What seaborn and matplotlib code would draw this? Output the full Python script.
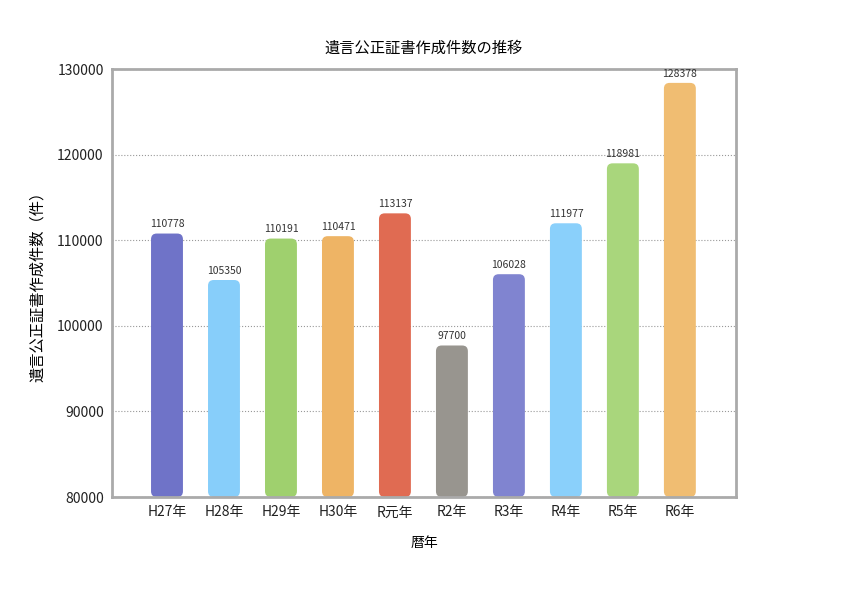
import matplotlib
matplotlib.use("Agg")
import matplotlib.pyplot as plt
import seaborn as sns
import pandas as pd
from matplotlib.patches import FancyBboxPatch

categories = ["H27年", "H28年", "H29年", "H30年", "R元年", "R2年", "R3年", "R4年", "R5年", "R6年"]
values = [110778, 105350, 110191, 110471, 113137, 97700, 106028, 111977, 118981, 128378]
colors = ["#6f73c8", "#87cefa", "#9fd06e", "#eeb465", "#e06b52", "#98958f",
          "#8084d0", "#8ad0fb", "#a9d67c", "#f0bd72"]

plt.rcParams["font.family"] = ["Noto Sans CJK JP", "DejaVu Sans"]
df = pd.DataFrame({"cat": categories, "val": values})

fig = plt.figure(figsize=(8.42, 5.95), dpi=100)
ax = fig.add_axes([112/842, 1-497/595, 624/842, 428/595])
sns.barplot(data=df, x="cat", y="val", hue="cat", palette=colors, legend=False,
            width=0.56, ax=ax, saturation=1)
ax.set_ylim(80000, 130000)
ax.set_xlim(-0.965, 9.985)
xpp = (ax.get_xlim()[1]-ax.get_xlim()[0])/624
ypp = 50000/428
for p in list(ax.patches):
    x, w, h = p.get_x(), p.get_width(), p.get_height()
    fc = p.get_facecolor()
    p.set_visible(False)
    rb = FancyBboxPatch((x, 80000), w, h-80000,
                        boxstyle="round,pad=0,rounding_size=0.1",
                        mutation_aspect=ypp/xpp, fc=fc, ec="none", clip_on=True)
    ax.add_patch(rb)
for i, v in enumerate(values):
    ax.text(i, v+500, str(v), ha="center", va="bottom", fontsize=7.5, color="#333333")

ax.yaxis.grid(True, linestyle=":", color="#999999", linewidth=0.8)
ax.set_axisbelow(True)
for s in ax.spines.values():
    s.set_color("#aaaaaa"); s.set_linewidth(2)
ax.set_yticks(range(80000, 130001, 10000))
ax.tick_params(length=0, labelsize=10, colors="#222222", pad=6)
ax.set_xlabel("暦年", fontsize=10, labelpad=12)
ax.set_ylabel("遺言公正証書作成件数（件）", fontsize=11, labelpad=8)
ax.set_title("遺言公正証書作成件数の推移", fontsize=11, pad=12)
fig.savefig("out.png", dpi=100)
